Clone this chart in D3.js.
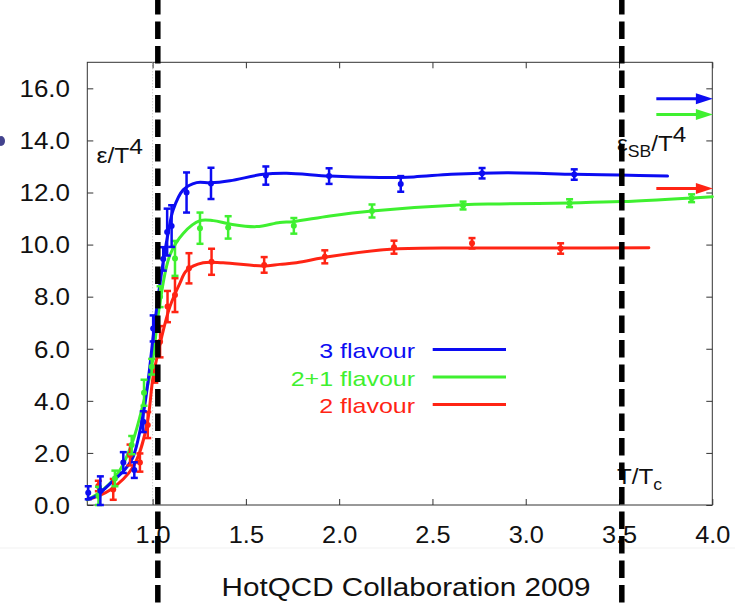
<!DOCTYPE html>
<html><head><meta charset="utf-8">
<script src="https://cdn.jsdelivr.net/npm/d3@7"></script>
<style>
html,body{margin:0;padding:0;background:#fff;}
svg{display:block;font-family:"Liberation Sans",Arial,Helvetica,sans-serif;}
</style></head>
<body>
<svg id="chart" width="747" height="603"></svg>
<script>
// ---- data ----
const xTicks = [1.0, 1.5, 2.0, 2.5, 3.0, 3.5, 4.0];
const yTicks = [0, 2, 4, 6, 8, 10, 12, 14, 16];
const seriesNames = ["3 flavour", "2+1 flavour", "2 flavour"];

// lattice points with error bars
const blueX   = [0.655, 0.72, 0.843, 0.902, 0.95, 1.003, 1.057, 1.078, 1.102, 1.182, 1.313, 1.607, 1.946, 2.33, 2.766, 3.26];
const blueY   = [0.47, 0.55, 1.63, 1.34, 3.2, 6.78, 9.45, 10.48, 10.71, 12.0, 12.35, 12.65, 12.63, 12.33, 12.74, 12.69];
const blueErr = [0.25, 0.55, 0.4, 0.3, 0.4, 0.5, 0.45, 0.9, 0.8, 0.77, 0.6, 0.35, 0.3, 0.3, 0.2, 0.2];

const greenX   = [0.71, 0.798, 0.888, 0.954, 0.995, 1.04, 1.12, 1.254, 1.405, 1.757, 2.176, 2.664, 3.235, 3.889];
const greenY   = [0.35, 1.02, 2.3, 4.31, 5.31, 8.0, 9.47, 10.63, 10.66, 10.72, 11.29, 11.5, 11.59, 11.78];
const greenErr = [0.35, 0.3, 0.35, 0.5, 0.3, 0.4, 0.67, 0.6, 0.43, 0.3, 0.25, 0.15, 0.15, 0.15];

const redX   = [0.709, 0.789, 0.879, 0.932, 0.974, 1.012, 1.04, 1.08, 1.12, 1.195, 1.316, 1.598, 1.923, 2.294, 2.712, 3.187];
const redY   = [0.73, 0.6, 1.92, 1.63, 3.07, 5.0, 6.27, 7.62, 8.06, 9.09, 9.34, 9.22, 9.53, 9.9, 10.05, 9.85];
const redErr = [0.2, 0.4, 0.4, 0.35, 0.5, 0.3, 0.6, 0.6, 0.65, 0.58, 0.5, 0.3, 0.25, 0.25, 0.2, 0.2];

// fitted curves
const blueCurveX = [0.65, 0.70, 0.754, 0.80, 0.85, 0.896, 0.95, 0.98, 1.003, 1.03, 1.058, 1.085, 1.11, 1.164, 1.236, 1.31, 1.414, 1.593, 1.718, 1.95, 2.218, 2.4, 2.6, 2.9, 3.26, 3.5, 3.76];
const blueCurveY = [0.22, 0.35, 0.7, 1.0, 1.35, 1.86, 3.5, 5.0, 6.46, 8.0, 9.4, 10.5, 11.33, 12.1, 12.38, 12.37, 12.45, 12.7, 12.74, 12.63, 12.58, 12.6, 12.7, 12.76, 12.7, 12.67, 12.63];

const greenCurveX = [0.65, 0.70, 0.772, 0.83, 0.896, 0.95, 0.995, 1.04, 1.093, 1.164, 1.254, 1.325, 1.414, 1.557, 1.682, 1.753, 1.95, 2.176, 2.664, 2.86, 3.235, 3.512, 4.0];
const greenCurveY = [0.2, 0.4, 0.83, 1.4, 2.5, 3.9, 5.31, 7.8, 9.6, 10.43, 10.92, 10.92, 10.79, 10.69, 10.85, 10.88, 11.1, 11.29, 11.53, 11.56, 11.6, 11.65, 11.84];

const redCurveX = [0.65, 0.772, 0.896, 0.968, 1.003, 1.045, 1.093, 1.146, 1.182, 1.271, 1.378, 1.593, 1.682, 1.771, 1.95, 2.294, 2.712, 3.187, 3.66];
const redCurveY = [0.2, 0.58, 1.47, 3.01, 4.93, 6.34, 7.62, 8.51, 9.0, 9.3, 9.3, 9.18, 9.24, 9.3, 9.54, 9.83, 9.87, 9.87, 9.88];

// Stefan-Boltzmann limits (arrows at the right)
const sbValues = [15.6, 15.0, 12.15];
const sbArrowX = [3.70, 4.003];

// vertical dashed markers
const markerX = [1.028, 3.515];

// ---- drawing ----
const colors = ["#0c0cf2", "#3ff030", "#ff2414"];
const svg = d3.select("#chart");
const W = 747, H = 603;
const x = d3.scaleLinear().domain([0.65, 4.0]).range([87.3, 712.3]);
const y = d3.scaleLinear().domain([0, 17]).range([505, 62.3]);

function stretchText(sel, sx) { return sel; }

// frame
svg.append("rect").attr("x", x(0.65)).attr("y", y(17))
  .attr("width", x(4.0) - x(0.65)).attr("height", y(0) - y(17))
  .attr("fill", "none").attr("stroke", "#333").attr("stroke-width", 1);

// faint dotted line at T/Tc = 1
svg.append("line").attr("x1", x(1.0)).attr("x2", x(1.0)).attr("y1", y(17)).attr("y2", y(0))
  .attr("stroke", "#bbb").attr("stroke-width", 1).attr("stroke-dasharray", "1,2");

// axes
const fmt = d3.format(".1f");
const gx = svg.append("g").attr("transform", `translate(0,${y(0)})`)
  .call(d3.axisBottom(x).tickValues(xTicks).tickFormat(fmt).tickSizeInner(-6).tickSizeOuter(0));
const gxTop = svg.append("g").attr("transform", `translate(0,${y(17)})`)
  .call(d3.axisTop(x).tickValues(xTicks).tickFormat("").tickSizeInner(-6).tickSizeOuter(0));
const gy = svg.append("g").attr("transform", `translate(${x(0.65)},0)`)
  .call(d3.axisLeft(y).tickValues(yTicks).tickFormat(fmt).tickSizeInner(-6).tickSizeOuter(0));
const gyR = svg.append("g").attr("transform", `translate(${x(4.0)},0)`)
  .call(d3.axisRight(y).tickValues(yTicks).tickFormat("").tickSizeInner(-6).tickSizeOuter(0));
[gx, gxTop, gy, gyR].forEach(g => {
  g.select(".domain").remove();
  g.selectAll(".tick line").attr("stroke", "#333");
});
gx.selectAll(".tick text")
  .attr("y", 0).attr("dy", 0)
  .attr("transform", "translate(0,37.7) scale(1.1,1)")
  .attr("font-size", 23).attr("fill", "#111").attr("font-family", "Liberation Sans, Arial, sans-serif");
gy.selectAll(".tick text")
  .attr("x", 0).attr("dy", "0.36em")
  .attr("transform", "translate(-17.3,0) scale(1.13,1)")
  .attr("font-size", 23).attr("fill", "#111").attr("font-family", "Liberation Sans, Arial, sans-serif");

// curves
const line = d3.line().x(d => x(d[0])).y(d => y(d[1])).curve(d3.curveCatmullRom.alpha(0.5));
const curves = [[blueCurveX, blueCurveY], [greenCurveX, greenCurveY], [redCurveX, redCurveY]];
const pts = [[blueX, blueY, blueErr], [greenX, greenY, greenErr], [redX, redY, redErr]];
const plot = svg.append("g");
// draw red first, then green, then blue? reference shows blue on top at transition
[2, 1, 0].forEach(i => {
  const [cx, cy] = curves[i];
  const data = cx.map((v, k) => [v, cy[k]]);
  plot.append("path").datum(data).attr("d", line)
    .attr("fill", "none").attr("stroke", colors[i]).attr("stroke-width", 3)
    .attr("stroke-linejoin", "round").attr("stroke-linecap", "round");
});
[2, 1, 0].forEach(i => {
  const [px, py, pe] = pts[i];
  const data = px.map((v, k) => ({x: v, y: py[k], e: pe[k]}));
  const g = plot.append("g").attr("stroke", colors[i]).attr("fill", colors[i]);
  const eb = g.selectAll("g.eb").data(data).enter().append("g");
  eb.append("line").attr("x1", d => x(d.x)).attr("x2", d => x(d.x))
    .attr("y1", d => y(d.y - d.e)).attr("y2", d => y(d.y + d.e)).attr("stroke-width", 2.5);
  eb.append("line").attr("x1", d => x(d.x) - 3.5).attr("x2", d => x(d.x) + 3.5)
    .attr("y1", d => y(d.y + d.e)).attr("y2", d => y(d.y + d.e)).attr("stroke-width", 2.5);
  eb.append("line").attr("x1", d => x(d.x) - 3.5).attr("x2", d => x(d.x) + 3.5)
    .attr("y1", d => y(d.y - d.e)).attr("y2", d => y(d.y - d.e)).attr("stroke-width", 2.5);
  eb.append("circle").attr("cx", d => x(d.x)).attr("cy", d => y(d.y)).attr("r", 3).attr("stroke", "none");
});

// SB arrows
sbValues.forEach((v, i) => {
  const x0 = x(sbArrowX[0]), x1 = x(sbArrowX[1]), yy = y(v);
  svg.append("line").attr("x1", x0).attr("x2", x1 - 12).attr("y1", yy).attr("y2", yy)
    .attr("stroke", colors[i]).attr("stroke-width", 3);
  svg.append("path").attr("d", `M${x1 - 17},${yy - 5.5} L${x1},${yy} L${x1 - 17},${yy + 5.5} Z`)
    .attr("fill", colors[i]);
});

// legend
const legY = [349.5, 377, 404.5];
seriesNames.forEach((name, i) => {
  svg.append("text").attr("transform", `translate(415,${legY[i] + 8.8}) scale(1.19,1)`)
    .attr("text-anchor", "end").attr("font-size", 21).attr("fill", colors[i]).text(name);
  svg.append("line").attr("x1", 432.7).attr("x2", 506).attr("y1", legY[i]).attr("y2", legY[i])
    .attr("stroke", colors[i]).attr("stroke-width", 3);
});

// labels
const lab1 = svg.append("text").attr("transform", "translate(96.5,163) scale(1.12,1)")
  .attr("font-size", 22).attr("fill", "#111");
lab1.append("tspan").text("ε/T");
lab1.append("tspan").attr("dy", -9).text("4");

const lab2 = svg.append("text").attr("transform", "translate(617,151) scale(1.1,1)")
  .attr("font-size", 22).attr("fill", "#111");
lab2.append("tspan").text("ε");
lab2.append("tspan").attr("dy", 6).attr("font-size", 16).text("SB");
lab2.append("tspan").attr("dy", -6).text("/T");
lab2.append("tspan").attr("dy", -9).text("4");

const lab3 = svg.append("text").attr("transform", "translate(617,484) scale(1.1,1)")
  .attr("font-size", 22).attr("fill", "#111");
lab3.append("tspan").text("T/T");
lab3.append("tspan").attr("dy", 6).attr("font-size", 16).text("c");

svg.append("text").attr("transform", "translate(406,595.5) scale(1.14,1)")
  .attr("text-anchor", "middle").attr("font-size", 26).attr("fill", "#111")
  .text("HotQCD Collaboration 2009");

// faint separator and edge artefact
svg.append("line").attr("x1", 0).attr("x2", 735).attr("y1", 548).attr("y2", 548)
  .attr("stroke", "#f1f1f1").attr("stroke-width", 1);
svg.append("ellipse").attr("cx", 1).attr("cy", 141).attr("rx", 4).attr("ry", 5)
  .attr("fill", "#22227a").attr("opacity", 0.85);

// vertical dashed markers (drawn over everything)
markerX.forEach(v => {
  svg.append("line").attr("x1", x(v)).attr("x2", x(v)).attr("y1", 0).attr("y2", H)
    .attr("stroke", "#000").attr("stroke-width", 5.5)
    .attr("stroke-dasharray", "17.5,7").attr("stroke-dashoffset", 3);
});
</script>
</body></html>
